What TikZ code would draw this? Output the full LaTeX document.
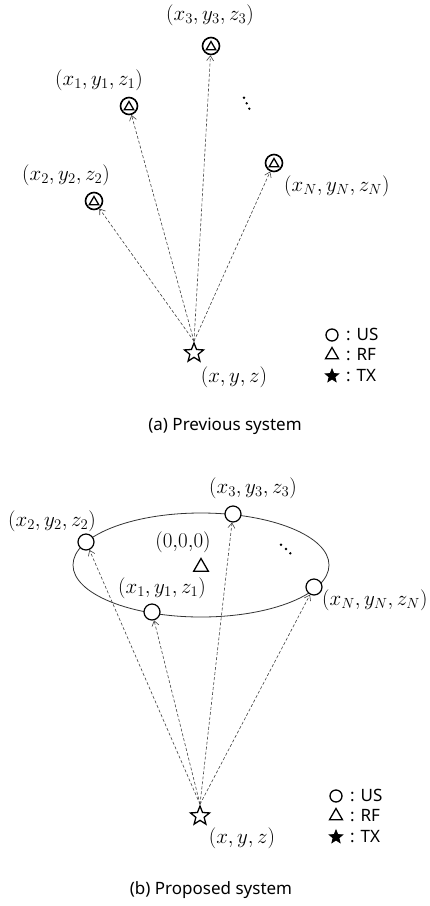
\RequirePackage{fix-cm}
\documentclass[tikz,border=0pt]{standalone}
\usepackage{fontspec}
\setsansfont{Noto Sans}
\usetikzlibrary{shapes.geometric,arrows.meta}
\tikzset{
  lbl/.style={font=\fontsize{21}{25}\selectfont, inner sep=0pt},
  dotm/.style={circle, fill=black, minimum size=2.6pt, inner sep=0pt},
  captext/.style={font=\sffamily\fontsize{17}{20}\selectfont, inner sep=0pt},
  leg/.style={font=\sffamily\fontsize{17}{19}\selectfont, inner sep=0pt, anchor=west},
  usrf/.style={circle, draw, line width=1.6pt, minimum size=17pt, inner sep=0pt},
  us/.style={circle, draw, line width=1.2pt, minimum size=16pt, inner sep=0pt},
  rfin/.style={regular polygon, regular polygon sides=3, draw, line width=1.3pt, minimum size=11pt, inner sep=0pt},
  rf/.style={regular polygon, regular polygon sides=3, draw, line width=1.3pt, minimum size=17pt, inner sep=0pt},
  tx/.style={star, star points=5, star point ratio=2.3, draw, line width=1.3pt, minimum size=20pt, inner sep=0pt},
  txf/.style={star, star points=5, star point ratio=2.3, draw, fill=black, line width=0.8pt, minimum size=14pt, inner sep=0pt},
  usl/.style={circle, draw, line width=1.3pt, minimum size=12pt, inner sep=0pt},
  rfl/.style={regular polygon, regular polygon sides=3, draw, line width=1.3pt, minimum size=15pt, inner sep=0pt},
  link/.style={densely dashed, draw=black!75, line width=0.6pt, -{Straight Barb[length=5pt,width=7pt]}},
}
\begin{document}
\begin{tikzpicture}[x=1pt,y=-1pt]
\useasboundingbox (0,0) rectangle (429,906);
% ---------- (a) Previous system ----------
\node[usrf] (a3) at (211,46) {};
\node[rfin] at (211,47) {};
\node[usrf] (a1) at (129,106) {};
\node[rfin] at (129,107) {};
\node[usrf] (a2) at (94,201) {};
\node[rfin] at (94,202) {};
\node[usrf] (aN) at (274,163) {};
\node[rfin] at (274,164) {};
\node[tx] (atx) at (194,353) {};
\node[lbl] (la3) at (210,15) {$(x_3,y_3,z_3)$};
\node[lbl] (la1) at (99,80) {$(x_1,y_1,z_1)$};
\node[lbl] (la2) at (66,175) {$(x_2,y_2,z_2)$};
\node[lbl, anchor=west] (laN) at (284,186) {$(x_N,y_N,z_N)$};
\node[dotm] (ad1) at (244,97.7) {};
\node[dotm] (ad2) at (246.7,103.3) {};
\node[dotm] (ad3) at (249.3,108.7) {};
\node[lbl] (latx) at (234,377) {$(x,y,z)$};
\draw[link] (atx.north) -- (a2);
\draw[link] (atx.north) -- (a1);
\draw[link] (atx.north) -- (a3);
\draw[link] (atx.north) -- (aN);
\node[usl] (lgaus) at (332,335) {};
\node[rfl] (lgarf) at (332,355) {};
\node[txf] (lgatx) at (332,376) {};
\node[leg] at (346,334) {: US};
\node[leg] at (346,355) {: RF};
\node[leg] at (346,376) {: TX};
\node[captext] (capa) at (225,426) {(a) Previous system};
% ---------- (b) Proposed system ----------
\draw[line width=0.8pt, draw=black!80] (201,565) ellipse [x radius=128, y radius=52];
\node[us, fill=white] (b3) at (233,514) {};
\node[us, fill=white] (b2) at (86,542) {};
\node[us, fill=white] (bN) at (314,587) {};
\node[us, fill=white] (b1) at (152,612) {};
\node[rf] (b0) at (201,567) {};
\node[tx] (btx) at (200,816) {};
\node[lbl] (lb3) at (253,488) {$(x_3,y_3,z_3)$};
\node[lbl] (lb2) at (52,521) {$(x_2,y_2,z_2)$};
\node[lbl] (lb0) at (183,542) {$(0{,}0{,}0)$};
\node[lbl] (lb1) at (162,588) {$(x_1,y_1,z_1)$};
\node[lbl, anchor=west] (lbN) at (322,600) {$(x_N,y_N,z_N)$};
\node[dotm] (bd1) at (281,544.7) {};
\node[dotm] (bd2) at (286,549) {};
\node[dotm] (bd3) at (290.3,553.3) {};
\node[lbl] (lbtx) at (242,838) {$(x,y,z)$};
\draw[link] (btx.north) -- (b2);
\draw[link] (btx.north) -- (b1);
\draw[link] (btx.north) -- (b3);
\draw[link] (btx.north) -- (bN);
\node[usl] (lgbus) at (336,796) {};
\node[rfl] (lgbrf) at (336,816) {};
\node[txf] (lgbtx) at (336,837) {};
\node[leg] at (350,795) {: US};
\node[leg] at (350,816) {: RF};
\node[leg] at (350,837) {: TX};
\node[captext] (capb) at (211,890) {(b) Proposed system};
\end{tikzpicture}
\end{document}
